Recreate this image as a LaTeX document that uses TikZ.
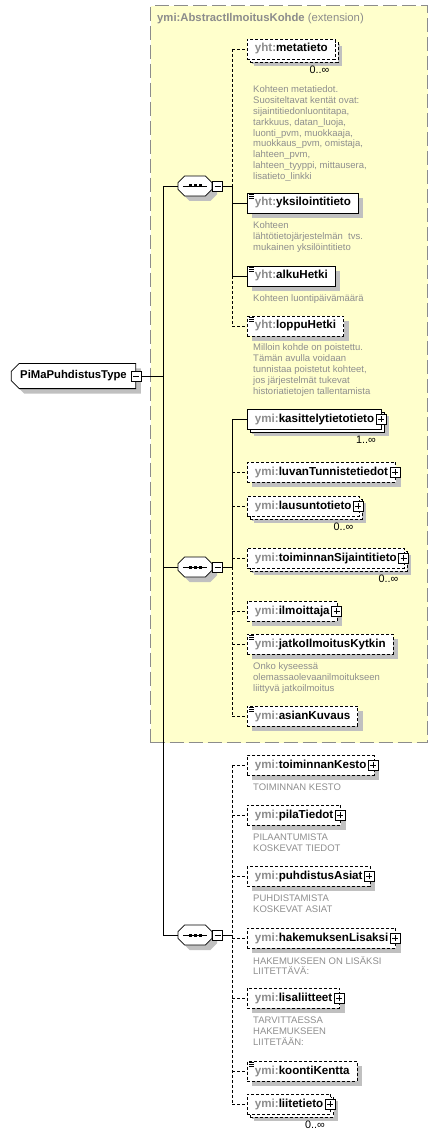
\documentclass[tikz,border=0pt]{standalone}
\usepackage{fontspec}
\setmainfont{Liberation Sans}
\usepackage{tikz}
\usetikzlibrary{shapes.misc, positioning, calc, shadows}

\definecolor{extfill}{HTML}{FFFFCC}
\definecolor{extline}{HTML}{8C8C8C}
\definecolor{pfxgray}{HTML}{8C8C8C}
\definecolor{docgray}{HTML}{8E8E8E}
\definecolor{shade}{HTML}{C0C0C0}

\newcommand{\pfx}[1]{\textcolor{pfxgray}{#1:}}
\newcommand{\plusgap}{\hspace{6pt}}

\begin{document}
\begin{tikzpicture}[
    x=1pt, y=-1pt,
    font=\fontsize{11.3}{13}\selectfont,
    elem/.style={
        draw,
        fill=white,
        anchor=west,
        font=\fontsize{11.6}{13}\selectfont\bfseries,
        minimum height=20pt,
        inner xsep=7.5pt,
        inner ysep=0pt,
        line width=0.8pt,
        drop shadow={shadow xshift=5pt, shadow yshift=-5pt, fill=shade, opacity=1}
    },
    opt/.style={dash pattern=on 3pt off 2pt},
    multi/.style={
        drop shadow={shadow xshift=7pt, shadow yshift=-7pt, fill=shade, opacity=1},
        copy shadow={shadow xshift=3pt, shadow yshift=-3pt, fill=white, draw=black, opacity=1}
    },
    tog/.style={draw, fill=white, minimum size=10pt, inner sep=0pt, line width=0.7pt},
    togplus/.style={tog, path picture={
        \draw ([xshift=2pt]path picture bounding box.west) -- ([xshift=-2pt]path picture bounding box.east);
        \draw ([yshift=-2pt]path picture bounding box.north) -- ([yshift=2pt]path picture bounding box.south);}},
    togminus/.style={tog, path picture={
        \draw ([xshift=2pt]path picture bounding box.west) -- ([xshift=-2pt]path picture bounding box.east);}},
    seqbox/.style={
        chamfered rectangle,
        chamfered rectangle sep=5pt,
        draw,
        fill=white,
        minimum width=34pt,
        minimum height=20pt,
        line width=0.8pt,
        drop shadow={shadow xshift=5pt, shadow yshift=-5pt, fill=shade, opacity=1}
    },
    doc/.style={anchor=north west, inner sep=0pt, align=left, text=docgray, font=\fontsize{9.5}{10.8}\selectfont},
    mult/.style={anchor=north east, inner sep=0pt, font=\fontsize{10.8}{12}\selectfont},
    wire/.style={line width=0.8pt},
    optwire/.style={line width=0.8pt, dash pattern=on 3pt off 2pt}
]
\useasboundingbox (0,0) rectangle (438,1139);

% Extension block
\node[draw=extline, fill=extfill, line width=1.1pt, dash pattern=on 14pt off 5pt,
      minimum width=277pt, minimum height=737pt, anchor=north west] (ext) at (150,5) {};
\node[anchor=west, inner sep=0pt, text=pfxgray, font=\fontsize{11.3}{13}\selectfont\bfseries] (ext_title) at (157,19)
    {ymi:AbstractIlmoitusKohde {\mdseries (extension)}};

% Complex type
\node[chamfered rectangle, chamfered rectangle corners={north west, south west}, chamfered rectangle sep=4pt,
      draw, fill=white, line width=0.8pt, minimum height=22pt, inner xsep=5pt,
      font=\fontsize{11.3}{13}\selectfont\bfseries,
      drop shadow={shadow xshift=5pt, shadow yshift=-5pt, fill=shade, opacity=1}] (ptype) at (73.5,376)
    {PiMaPuhdistusType\hspace{9pt}};
\node[togminus] (ptype_t) at (ptype.east) {};

% Sequences
\node[seqbox] (seqA) at (195,186) {};
\node[seqbox] (seqB) at (195,567) {};
\node[seqbox] (seqC) at (195,935) {};
\foreach \s in {seqA, seqB, seqC} {
    \node[togminus] (\s_t) at ([xshift=22.5pt]\s.center) {};
    \draw[wire] ([xshift=-12pt]\s.center) -- ([xshift=12pt]\s.center);
    \foreach \d in {-5,0,5}
        \fill ([xshift=\d pt]\s.center) ++(-1.5pt,-1.5pt) rectangle ++(3pt,3pt);
}

% Trunk
\coordinate (trunk) at (163,376);
\draw[wire] (ptype_t.east) -- (trunk);
\draw[wire] (seqA.west) -- (seqA.west -| trunk) -- (seqC.west -| trunk) -- (seqC.west);
\draw[wire] (seqB.west -| trunk) -- (seqB.west);

% First sequence (inside extension)
\node[elem, opt, multi] (meta) at (247,49) {\pfx{yht}metatieto};
\node[mult] (meta_m) at ([xshift=-6pt, yshift=-6pt]meta.south east) {0..∞};
\node[doc] (meta_d) at ([xshift=6pt, yshift=-26.5pt]meta.south west)
    {Kohteen metatiedot.\\Suositeltavat kentät ovat:\\sijaintitiedonluontitapa,\\tarkkuus, datan\_luoja,\\luonti\_pvm, muokkaaja,\\muokkaus\_pvm, omistaja,\\lahteen\_pvm,\\lahteen\_tyyppi, mittausera,\\lisatieto\_linkki};

\node[elem] (yksil) at (247,203) {\pfx{yht}yksilointitieto};
\node[doc] (yksil_d) at ([xshift=6pt, yshift=-8.5pt]yksil.south west)
    {Kohteen\\lähtötietojärjestelmän\ \ tvs.\\mukainen yksilöintitieto};

\node[elem] (alku) at (247,276) {\pfx{yht}alkuHetki};
\node[doc] (alku_d) at ([xshift=6pt, yshift=-8.5pt]alku.south west) {Kohteen luontipäivämäärä};

\node[elem, opt] (loppu) at (247,326) {\pfx{yht}loppuHetki};
\node[doc] (loppu_d) at ([xshift=6pt, yshift=-7.5pt]loppu.south west)
    {Milloin kohde on poistettu.\\Tämän avulla voidaan\\tunnistaa poistetut kohteet,\\jos järjestelmät tukevat\\historiatietojen tallentamista};

\coordinate (busA) at (232,186);
\draw[wire] (seqA_t.east) -- (busA);
\draw[optwire] (busA |- meta.west) -- (busA);
\draw[wire] (busA) -- (busA |- alku.west);
\draw[optwire] (busA |- alku.west) -- (busA |- loppu.west);
\foreach \n in {yksil, alku}
    \draw[wire] (busA |- \n.west) -- (\n.west);
\foreach \n in {meta, loppu}
    \draw[optwire] (busA |- \n.west) -- (\n.west);

% Second sequence (inside extension)
\node[elem, multi] (kasit) at (247,419) {\pfx{ymi}kasittelytietotieto\plusgap};
\node[mult] (kasit_m) at ([xshift=-6pt, yshift=-6pt]kasit.south east) {1..∞};

\node[elem, opt] (luvan) at (247,472) {\pfx{ymi}luvanTunnistetiedot\plusgap};

\node[elem, opt, multi] (lausu) at (247,506) {\pfx{ymi}lausuntotieto\plusgap};
\node[mult] (lausu_m) at ([xshift=-6pt, yshift=-6pt]lausu.south east) {0..∞};

\node[elem, opt, multi] (toimS) at (247,558) {\pfx{ymi}toiminnanSijaintitieto\plusgap};
\node[mult] (toimS_m) at ([xshift=-6pt, yshift=-6pt]toimS.south east) {0..∞};

\node[elem, opt] (ilmo) at (247,611) {\pfx{ymi}ilmoittaja\plusgap};

\node[elem, opt] (jatko) at (247,644) {\pfx{ymi}jatkoIlmoitusKytkin};
\node[doc] (jatko_d) at ([xshift=6pt, yshift=-8.5pt]jatko.south west)
    {Onko kyseessä\\olemassaolevaanilmoitukseen\\liittyvä jatkoilmoitus};

\node[elem, opt] (asian) at (247,716) {\pfx{ymi}asianKuvaus};

\coordinate (busB) at (232,567);
\draw[wire] (seqB_t.east) -- (busB);
\draw[wire] (busB |- kasit.west) -- (busB);
\draw[optwire] (busB) -- (busB |- asian.west);
\draw[wire] (busB |- kasit.west) -- (kasit.west);
\foreach \n in {luvan, lausu, toimS, ilmo, jatko, asian}
    \draw[optwire] (busB |- \n.west) -- (\n.west);

% Third sequence
\node[elem, opt] (toimK) at (247,765) {\pfx{ymi}toiminnanKesto\plusgap};
\node[doc] (toimK_d) at ([xshift=6pt, yshift=-8.5pt]toimK.south west) {TOIMINNAN KESTO};

\node[elem, opt] (pila) at (247,815) {\pfx{ymi}pilaTiedot\plusgap};
\node[doc] (pila_d) at ([xshift=6pt, yshift=-8.5pt]pila.south west) {PILAANTUMISTA\\KOSKEVAT TIEDOT};

\node[elem, opt] (puhd) at (247,876) {\pfx{ymi}puhdistusAsiat\plusgap};
\node[doc] (puhd_d) at ([xshift=6pt, yshift=-8.5pt]puhd.south west) {PUHDISTAMISTA\\KOSKEVAT ASIAT};

\node[elem, opt] (hakem) at (247,938) {\pfx{ymi}hakemuksenLisaksi\plusgap};
\node[doc] (hakem_d) at ([xshift=6pt, yshift=-7.5pt]hakem.south west) {HAKEMUKSEEN ON LISÄKSI\\LIITETTÄVÄ:};

\node[elem, opt] (lisal) at (247,998) {\pfx{ymi}lisaliitteet\plusgap};
\node[doc] (lisal_d) at ([xshift=6pt, yshift=-8.5pt]lisal.south west) {TARVITTAESSA\\HAKEMUKSEEN\\LIITETÄÄN:};

\node[elem, opt] (koont) at (247,1071) {\pfx{ymi}koontiKentta};

\node[elem, opt, multi] (liite) at (247,1104) {\pfx{ymi}liitetieto\plusgap};
\node[mult] (liite_m) at ([xshift=-6pt, yshift=-6pt]liite.south east) {0..∞};

\coordinate (busC) at (232,935);
\draw[wire] (seqC_t.east) -- (busC);
\draw[optwire] (busC |- toimK.west) -- (busC |- liite.west);
\foreach \n in {toimK, pila, puhd, hakem, lisal, koont, liite}
    \draw[optwire] (busC |- \n.west) -- (\n.west);

% Expand boxes
\foreach \n in {kasit, luvan, lausu, toimS, ilmo, toimK, pila, puhd, hakem, lisal, liite}
    \node[togplus] (\n_t) at ([xshift=-1pt]\n.east) {};

% Simple type marks
\foreach \n in {yksil, alku, loppu, jatko, asian, koont}
    \foreach \k in {0,1,2}
        \draw[line width=0.6pt] ([xshift=2pt, yshift={-2pt-2pt*\k}]\n.north west) -- ++(5pt,0);

\end{tikzpicture}
\end{document}
